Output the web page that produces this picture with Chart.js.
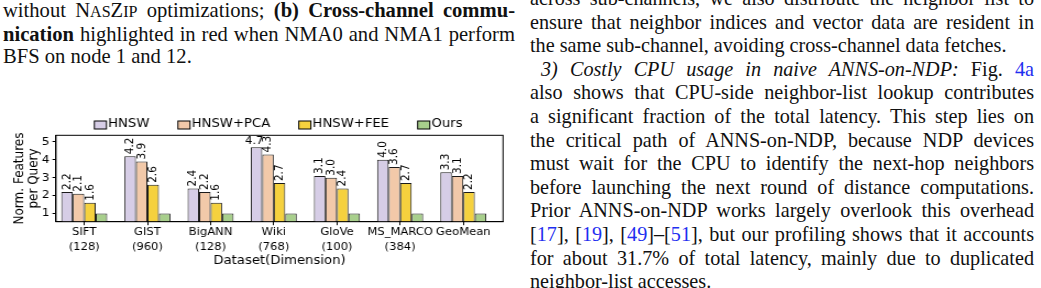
<!DOCTYPE html>
<html>
<head>
<meta charset="utf-8">
<script src="https://cdn.jsdelivr.net/npm/chart.js@4.4.1/dist/chart.umd.min.js"></script>
<style>
    body { margin: 0; width: 1041px; height: 288px; overflow: hidden; background: #fff; position: relative;
           font-family: "Liberation Serif", serif; color: #111; }
    .col { position: absolute; }
    .col div { box-sizing: border-box; text-align: justify; text-align-last: justify; white-space: nowrap; }
    .col div.last { text-align-last: left; }
    #caption { left: 3px; top: -1px; width: 512px; font-size: 20.6px; line-height: 22px; }
    #bodyText { left: 530px; top: -13px; width: 504px; font-size: 20.2px; line-height: 23.6px; }
    .ind { padding-left: 11px; }
    .sc { font-size: 0.78em; }
    a { color: #1f2ff0; text-decoration: none; }
    /* the figure is stretched sideways in the paper, so the canvas is too */
    #chartBox { position: absolute; left: 0; top: 110px; width: 480px; height: 158px;
                transform: scaleX(1.1); transform-origin: 0 0; }
</style>
</head>
<body>

<div class="col" id="caption">
    <div>without N<span class="sc">AS</span>Z<span class="sc">IP</span> optimizations; <b>(b) Cross-channel commu-</b></div>
    <div><b>nication</b> highlighted in red when NMA0 and NMA1 perform</div>
    <div class="last">BFS on node 1 and 12.</div>
</div>

<div class="col" id="bodyText">
    <div>across sub-channels, we also distribute the neighbor list to</div>
    <div>ensure that neighbor indices and vector data are resident in</div>
    <div class="last">the same sub-channel, avoiding cross-channel data fetches.</div>
    <div class="ind"><i>3) Costly CPU usage in naive ANNS-on-NDP:</i> Fig. <a>4a</a></div>
    <div>also shows that CPU-side neighbor-list lookup contributes</div>
    <div>a significant fraction of the total latency. This step lies on</div>
    <div>the critical path of ANNS-on-NDP, because NDP devices</div>
    <div>must wait for the CPU to identify the next-hop neighbors</div>
    <div>before launching the next round of distance computations.</div>
    <div>Prior ANNS-on-NDP works largely overlook this overhead</div>
    <div>[<a>17</a>], [<a>19</a>], [<a>49</a>]–[<a>51</a>], but our profiling shows that it accounts</div>
    <div>for about 31.7% of total latency, mainly due to duplicated</div>
    <div class="last">neighbor-list accesses.</div>
</div>

<div id="chartBox"><canvas id="featChart"></canvas></div>

<script>
var categories = ['SIFT', 'GIST', 'BigANN', 'Wiki', 'GloVe', 'MS_MARCO', 'GeoMean'];
var dimensions = ['(128)', '(960)', '(128)', '(768)', '(100)', '(384)', ''];
var seriesNames = ['HNSW', 'HNSW+PCA', 'HNSW+FEE', 'Ours'];
var hnswValues = [2.2, 4.2, 2.4, 4.7, 3.1, 4.0, 3.3];
var pcaValues = [2.1, 3.9, 2.2, 4.3, 3.0, 3.6, 3.1];
var feeValues = [1.6, 2.6, 1.6, 2.7, 2.4, 2.7, 2.2];
var oursValues = [1, 1, 1, 1, 1, 1, 1];
var yTickValues = [1, 2, 3, 4, 5];

var seriesColors = ['#d6cde6', '#f2c9a9', '#f5d13e', '#a8cf8c'];

Chart.defaults.font.family = '"DejaVu Sans"';
Chart.defaults.color = '#000';

function makeSeries(idx, values, showValues) {
    return {
        label: seriesNames[idx],
        data: values.map(function (v, i) { return { x: i, y: v }; }),
        backgroundColor: seriesColors[idx],
        borderColor: '#1a1a1a',
        borderWidth: 1,
        borderSkipped: false,
        showValues: showValues
    };
}

// box around the plot, like the matplotlib axes
var axesFrame = {
    id: 'axesFrame',
    afterDatasetsDraw: function (chart) {
        var a = chart.chartArea, ctx = chart.ctx;
        ctx.save();
        ctx.strokeStyle = '#000';
        ctx.lineWidth = 1;
        ctx.strokeRect(a.left, a.top, a.right - a.left, a.bottom - a.top);
        ctx.restore();
    }
};

// value above each bar, turned on its side unless it would leave the plot
var valueLabels = {
    id: 'valueLabels',
    afterDatasetsDraw: function (chart) {
        var ctx = chart.ctx;
        var top = chart.chartArea.top;
        ctx.save();
        ctx.font = '10.5px "DejaVu Sans"';
        ctx.fillStyle = '#000';
        chart.data.datasets.forEach(function (ds, d) {
            if (!ds.showValues) return;
            chart.getDatasetMeta(d).data.forEach(function (bar, i) {
                var text = ds.data[i].y.toFixed(1);
                var w = ctx.measureText(text).width;
                if (bar.y - 2 - w < top) {
                    ctx.textAlign = 'center';
                    ctx.textBaseline = 'alphabetic';
                    ctx.fillText(text, bar.x - 2, bar.y - 3);
                } else {
                    ctx.save();
                    ctx.translate(bar.x, bar.y - 2);
                    ctx.rotate(-Math.PI / 2);
                    ctx.textAlign = 'left';
                    ctx.textBaseline = 'middle';
                    ctx.fillText(text, 0, 0);
                    ctx.restore();
                }
            });
        });
        ctx.restore();
    }
};

// legend in one row with the box right against the text
var boxLegend = {
    id: 'boxLegend',
    afterDraw: function (chart) {
        var ctx = chart.ctx, a = chart.chartArea;
        var boxW = 11, boxH = 8, pad = 1.5, gap = 26;
        ctx.save();
        ctx.font = '12px "DejaVu Sans"';
        var widths = chart.data.datasets.map(function (ds) { return ctx.measureText(ds.label).width; });
        var total = gap * (widths.length - 1);
        widths.forEach(function (w) { total += boxW + pad + w; });
        var x = (a.left + a.right) / 2 - total / 2 - 1;
        var y = a.top - 11.3;
        ctx.textBaseline = 'middle';
        chart.data.datasets.forEach(function (ds, i) {
            ctx.fillStyle = ds.backgroundColor;
            ctx.fillRect(x, y - boxH / 2 + 1, boxW, boxH);
            ctx.strokeStyle = '#000';
            ctx.lineWidth = 1;
            ctx.strokeRect(x, y - boxH / 2 + 1, boxW, boxH);
            ctx.fillStyle = '#000';
            ctx.fillText(ds.label, x + boxW + pad, y);
            x += boxW + pad + widths[i] + gap;
        });
        ctx.restore();
    }
};

var featChart = new Chart(document.getElementById('featChart'), {
    type: 'bar',
    data: {
        datasets: [
            makeSeries(0, hnswValues, true),
            makeSeries(1, pcaValues, true),
            makeSeries(2, feeValues, true),
            makeSeries(3, oursValues, false)
        ]
    },
    options: {
        responsive: true,
        maintainAspectRatio: false,
        animation: false,
        layout: { padding: { top: 25.3, right: 22.7, left: 0, bottom: 0 } },
        datasets: { bar: { categoryPercentage: 0.728, barPercentage: 1 } },
        plugins: { legend: { display: false }, tooltip: { enabled: false } },
        scales: {
            x: {
                type: 'linear',
                min: -0.447,
                max: 6.629,
                offset: false,
                grid: { offset: false, drawOnChartArea: false, tickLength: 3.5, color: '#000' },
                border: { color: '#000', width: 1 },
                afterBuildTicks: function (scale) {
                    scale.ticks = categories.map(function (c, i) { return { value: i }; });
                },
                afterFit: function (scale) { scale.height = 46.3; },
                ticks: {
                    autoSkip: false,
                    maxRotation: 0,
                    padding: 0,
                    font: { size: 10.5, lineHeight: '15px' },
                    callback: function (value, index) {
                        return dimensions[index] ? [categories[index], dimensions[index]] : categories[index];
                    }
                },
                title: { display: true, text: 'Dataset(Dimension)', font: { size: 12 }, padding: 0 }
            },
            y: {
                min: 0.54,
                max: 5.37,
                grid: { drawOnChartArea: false, tickLength: 3.2, color: '#000' },
                border: { color: '#000', width: 1 },
                afterBuildTicks: function (scale) {
                    scale.ticks = yTickValues.map(function (v) { return { value: v }; });
                },
                afterFit: function (scale) { scale.width = 50.9; },
                ticks: { padding: 2.7, font: { size: 11 } },
                title: {
                    display: true,
                    text: ['Norm. Features', 'per Query'],
                    font: { size: 12, lineHeight: 1.06 },
                    padding: { top: 11.4, bottom: 0 }
                }
            }
        }
    },
    plugins: [axesFrame, valueLabels, boxLegend]
});
</script>
</body>
</html>
